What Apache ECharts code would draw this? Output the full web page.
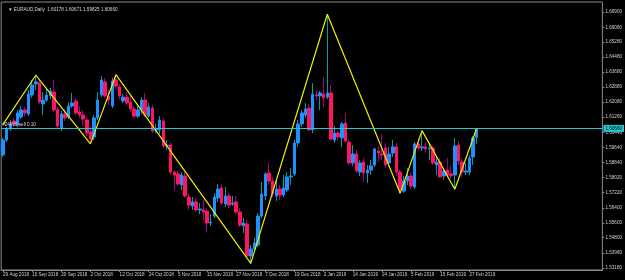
<!DOCTYPE html>
<html><head><meta charset="utf-8">
<script src="https://cdn.jsdelivr.net/npm/echarts@6/dist/echarts.min.js"></script>
<style>html,body{margin:0;padding:0;background:#000;}#c{width:625px;height:280px;}</style>
</head><body><div id="c"></div>
<script>
const dates = [
'29 Aug 2018','30 Aug 2018','31 Aug 2018','3 Sep 2018','4 Sep 2018','5 Sep 2018','6 Sep 2018','7 Sep 2018',
'10 Sep 2018','11 Sep 2018','12 Sep 2018','13 Sep 2018','14 Sep 2018','17 Sep 2018','18 Sep 2018','19 Sep 2018',
'20 Sep 2018','21 Sep 2018','24 Sep 2018','25 Sep 2018','26 Sep 2018','27 Sep 2018','28 Sep 2018','1 Oct 2018',
'2 Oct 2018','3 Oct 2018','4 Oct 2018','5 Oct 2018','8 Oct 2018','9 Oct 2018','10 Oct 2018','11 Oct 2018',
'12 Oct 2018','15 Oct 2018','16 Oct 2018','17 Oct 2018','18 Oct 2018','19 Oct 2018','22 Oct 2018','23 Oct 2018',
'24 Oct 2018','25 Oct 2018','26 Oct 2018','29 Oct 2018','30 Oct 2018','31 Oct 2018','1 Nov 2018','2 Nov 2018',
'5 Nov 2018','6 Nov 2018','7 Nov 2018','8 Nov 2018','9 Nov 2018','12 Nov 2018','13 Nov 2018','14 Nov 2018',
'15 Nov 2018','16 Nov 2018','19 Nov 2018','20 Nov 2018','21 Nov 2018','22 Nov 2018','23 Nov 2018','26 Nov 2018',
'27 Nov 2018','28 Nov 2018','29 Nov 2018','30 Nov 2018','3 Dec 2018','4 Dec 2018','5 Dec 2018','6 Dec 2018',
'7 Dec 2018','10 Dec 2018','11 Dec 2018','12 Dec 2018','13 Dec 2018','14 Dec 2018','17 Dec 2018','18 Dec 2018',
'19 Dec 2018','20 Dec 2018','21 Dec 2018','24 Dec 2018','26 Dec 2018','27 Dec 2018','28 Dec 2018','31 Dec 2018',
'2 Jan 2019','3 Jan 2019','4 Jan 2019','7 Jan 2019','8 Jan 2019','9 Jan 2019','10 Jan 2019','11 Jan 2019',
'14 Jan 2019','15 Jan 2019','16 Jan 2019','17 Jan 2019','18 Jan 2019','21 Jan 2019','22 Jan 2019','23 Jan 2019',
'24 Jan 2019','25 Jan 2019','28 Jan 2019','29 Jan 2019','30 Jan 2019','31 Jan 2019','1 Feb 2019','4 Feb 2019',
'5 Feb 2019','6 Feb 2019','7 Feb 2019','8 Feb 2019','11 Feb 2019','12 Feb 2019','13 Feb 2019','14 Feb 2019',
'15 Feb 2019','18 Feb 2019','19 Feb 2019','20 Feb 2019','21 Feb 2019','22 Feb 2019','25 Feb 2019','26 Feb 2019',
'27 Feb 2019','28 Feb 2019','1 Mar 2019'];

const opens = [
1.5924,1.6004,1.6063,1.6106,1.6084,1.6127,1.6165,1.6143,1.6245,1.6304,
1.6309,1.6197,1.6218,1.6240,1.6261,1.6165,1.6068,1.6143,1.6127,1.6186,
1.6213,1.6154,1.6138,1.6111,1.6047,1.6020,1.6122,1.6245,1.6315,1.6240,
1.6186,1.6326,1.6288,1.6213,1.6234,1.6207,1.6170,1.6132,1.6165,1.6218,
1.6132,1.6175,1.6058,1.6058,1.6106,1.5972,1.5977,1.5832,1.5822,1.5763,
1.5811,1.5698,1.5650,1.5672,1.5629,1.5629,1.5623,1.5559,1.5596,1.5693,
1.5747,1.5661,1.5704,1.5661,1.5672,1.5618,1.5543,1.5554,1.5382,1.5420,
1.5441,1.5596,1.5704,1.5827,1.5784,1.5704,1.5741,1.5709,1.5736,1.5806,
1.5822,1.5988,1.6090,1.6138,1.6175,1.6058,1.6245,1.6240,1.6250,1.6234,
1.6256,1.6004,1.6041,1.6015,1.6095,1.5993,1.5881,1.5929,1.5832,1.5886,
1.5827,1.5843,1.5870,1.5945,1.5929,1.5961,1.5881,1.5934,1.5967,1.5832,
1.5730,1.5784,1.5811,1.5752,1.5983,1.5961,1.5967,1.5956,1.5961,1.5870,
1.5886,1.5811,1.5843,1.5822,1.5816,1.5977,1.5886,1.5832,1.5832,1.5913,
1.60178];
const closes = [
1.6004,1.6063,1.6090,1.6090,1.6149,1.6165,1.6149,1.6250,1.6299,1.6315,
1.6207,1.6218,1.6245,1.6266,1.6165,1.6079,1.6143,1.6122,1.6186,1.6202,
1.6149,1.6138,1.6116,1.6041,1.6009,1.6122,1.6218,1.6326,1.6240,1.6218,
1.6320,1.6293,1.6240,1.6234,1.6202,1.6170,1.6132,1.6165,1.6218,1.6138,
1.6181,1.6052,1.6063,1.6111,1.5972,1.5977,1.5832,1.5816,1.5768,1.5816,
1.5704,1.5655,1.5672,1.5629,1.5634,1.5618,1.5559,1.5564,1.5698,1.5741,
1.5666,1.5704,1.5655,1.5666,1.5618,1.5548,1.5559,1.5382,1.5420,1.5452,
1.5596,1.5714,1.5822,1.5784,1.5714,1.5741,1.5709,1.5747,1.5806,1.5811,
1.5988,1.6090,1.6149,1.6170,1.6058,1.6250,1.6240,1.6256,1.6229,1.6256,
1.6009,1.6041,1.6020,1.6090,1.5999,1.5881,1.5929,1.5838,1.5881,1.5827,
1.5843,1.5865,1.5956,1.5934,1.5924,1.5870,1.5929,1.5967,1.5832,1.5736,
1.5784,1.5811,1.5757,1.5983,1.5961,1.5967,1.5956,1.5961,1.5881,1.5886,
1.5806,1.5838,1.5816,1.5811,1.5972,1.5891,1.5832,1.5838,1.5907,1.6015,
1.60660];
const highs = [
1.6015,1.6074,1.6111,1.6122,1.6165,1.6186,1.6181,1.6272,1.6326,1.6351,
1.6326,1.6261,1.6283,1.6283,1.6326,1.6181,1.6159,1.6170,1.6207,1.6256,
1.6229,1.6186,1.6165,1.6122,1.6079,1.6138,1.6261,1.6347,1.6336,1.6272,
1.6336,1.6354,1.6304,1.6250,1.6261,1.6240,1.6186,1.6197,1.6234,1.6256,
1.6202,1.6191,1.6090,1.6132,1.6122,1.6004,1.5993,1.5843,1.5843,1.5832,
1.5832,1.5720,1.5698,1.5693,1.5666,1.5682,1.5639,1.5607,1.5720,1.5768,
1.5768,1.5752,1.5720,1.5704,1.5704,1.5639,1.5586,1.5575,1.5441,1.5479,
1.5612,1.5779,1.5832,1.5881,1.5806,1.5800,1.5763,1.5816,1.5832,1.5854,
1.6004,1.6111,1.6165,1.6202,1.6197,1.6309,1.6272,1.6266,1.6342,1.6678,
1.6299,1.6079,1.6058,1.6100,1.6149,1.6004,1.5977,1.5950,1.5897,1.5907,
1.5870,1.5897,1.5961,1.5972,1.6036,1.5988,1.5967,1.6004,1.5988,1.5843,
1.5811,1.5854,1.5832,1.5993,1.6015,1.6054,1.5993,1.5988,1.5972,1.5913,
1.5907,1.5854,1.5907,1.5865,1.6015,1.5999,1.5907,1.5881,1.5924,1.6025,
1.60671];
const lows = [
1.5913,1.5993,1.6052,1.6074,1.6074,1.6116,1.6132,1.6132,1.6229,1.6272,
1.6197,1.6138,1.6207,1.6223,1.6154,1.6068,1.6052,1.6106,1.6116,1.6175,
1.6138,1.6122,1.6079,1.6025,1.5983,1.6004,1.6111,1.6234,1.6229,1.6191,
1.6175,1.6277,1.6218,1.6202,1.6191,1.6154,1.6122,1.6122,1.6143,1.6127,
1.6122,1.6041,1.6041,1.6036,1.5961,1.5950,1.5822,1.5736,1.5757,1.5736,
1.5693,1.5629,1.5629,1.5618,1.5607,1.5575,1.5511,1.5543,1.5586,1.5672,
1.5655,1.5645,1.5639,1.5650,1.5607,1.5538,1.5505,1.5371,1.5343,1.5404,
1.5430,1.5586,1.5682,1.5763,1.5698,1.5677,1.5682,1.5698,1.5725,1.5763,
1.5811,1.5967,1.6074,1.6122,1.6052,1.6041,1.6218,1.6165,1.6181,1.6223,
1.5999,1.5988,1.6004,1.5967,1.5988,1.5870,1.5865,1.5827,1.5811,1.5779,
1.5773,1.5816,1.5859,1.5886,1.5897,1.5854,1.5859,1.5913,1.5811,1.5718,
1.5720,1.5763,1.5741,1.5741,1.5950,1.5945,1.5934,1.5897,1.5870,1.5816,
1.5800,1.5790,1.5800,1.5795,1.5740,1.5870,1.5806,1.5816,1.5816,1.5870,
1.59825];

const zigIdx = [0, 9, 24, 31, 68, 89, 109, 115, 124, 130];
const zigVal = [1.6088, 1.6351, 1.5983, 1.6354, 1.5343, 1.6678, 1.5718, 1.6054, 1.5740, 1.60671];

const yTicks = [1.66900,1.66080,1.65280,1.64480,1.63680,1.62880,1.62080,1.61260,1.60440,
                1.59640,1.58840,1.58020,1.57220,1.56400,1.55600,1.54800,1.53980,1.53180];

const currentPrice = 1.60660;
const titleText = '\u25BC EURAUD,Daily  1.60178 1.60671 1.59825 1.60660';
const orderText = '#24660 sell 0.10';
const padBars = 34;

const nBars = dates.length;
const cats = dates.concat(Array.from({length: padBars}, (_, k) => '_pad' + k));
const wickData = dates.map((d, i) => [opens[i], closes[i], lows[i], highs[i]]);
const bodyData = dates.map((d, i) => [opens[i], closes[i], Math.min(opens[i], closes[i]), Math.max(opens[i], closes[i])]);
const zigData = zigIdx.map((x, k) => [x, zigVal[k]]);

const FONT = 'Liberation Sans';
const chart = echarts.init(document.getElementById('c'), null, {renderer: 'canvas'});
chart.setOption({
  backgroundColor: '#000',
  animation: false,
  title: {
    text: titleText, left: 3, top: 2,
    textStyle: {color: '#d8d8d8', fontSize: 4.6, fontWeight: 'normal', fontFamily: FONT}
  },
  grid: {left: 1, right: 21, top: 2, bottom: 10, show: true, borderColor: '#8a8a8a', borderWidth: 1, backgroundColor: '#000'},
  xAxis: {
    type: 'category', data: cats, boundaryGap: true,
    axisLine: {show: true, lineStyle: {color: '#8a8a8a', width: 1}},
    axisTick: {show: true, alignWithLabel: true, length: 2, lineStyle: {color: '#8a8a8a'},
      interval: (idx) => idx % 8 === 0 && idx < nBars},
    axisLabel: {
      interval: (idx) => idx % 8 === 0 && idx < nBars,
      align: 'left', margin: 2, color: '#d0d0d0', fontSize: 4.6, fontFamily: FONT,
      formatter: (v) => (v.indexOf('_pad') === 0 ? '' : v)
    },
    splitLine: {show: false}
  },
  yAxis: {
    type: 'value', position: 'right', min: 1.53071, max: 1.67436, scale: true,
    axisLine: {show: false},
    axisTick: {show: true, length: 2, lineStyle: {color: '#8a8a8a'}, customValues: yTicks},
    axisLabel: {color: '#d0d0d0', fontSize: 4.6, fontFamily: FONT, margin: 3,
      customValues: yTicks, formatter: (v) => v.toFixed(5)},
    splitLine: {show: false}
  },
  series: [
    {
      type: 'candlestick', name: 'wick', data: wickData, barWidth: 1, z: 2,
      itemStyle: {color: '#00A0A0', color0: '#A0008C', borderColor: '#00A0A0', borderColor0: '#A0008C', borderColorDoji: '#00A0A0', borderWidth: 1}
    },
    {
      type: 'candlestick', name: 'body', data: bodyData, barWidth: 3, z: 3,
      itemStyle: {color: '#1E90FF', color0: '#FF1464', borderColor: '#1E90FF', borderColor0: '#FF1464', borderColorDoji: '#00A0A0', borderWidth: 1}
    },
    {
      type: 'line', name: 'zigzag', data: zigData, symbol: 'none', z: 4,
      lineStyle: {color: '#F0F000', width: 1.2},
      markLine: {
        silent: true, symbol: ['none', 'none'], animation: false, precision: 5,
        lineStyle: {color: '#22C8D2', width: 1, type: 'solid'},
        data: [
          {yAxis: currentPrice, label: {show: true, position: 'end', distance: 1, formatter: currentPrice.toFixed(5),
            backgroundColor: '#22C8D2', color: '#000', fontSize: 4.6, fontFamily: FONT, padding: [1, 2]}},
          {yAxis: currentPrice, label: {show: true, position: 'insideStartTop', distance: 1, formatter: orderText,
            color: '#d8d8d8', fontSize: 4.6, fontFamily: FONT}}
        ]
      }
    }
  ]
});
</script>
</body></html>
